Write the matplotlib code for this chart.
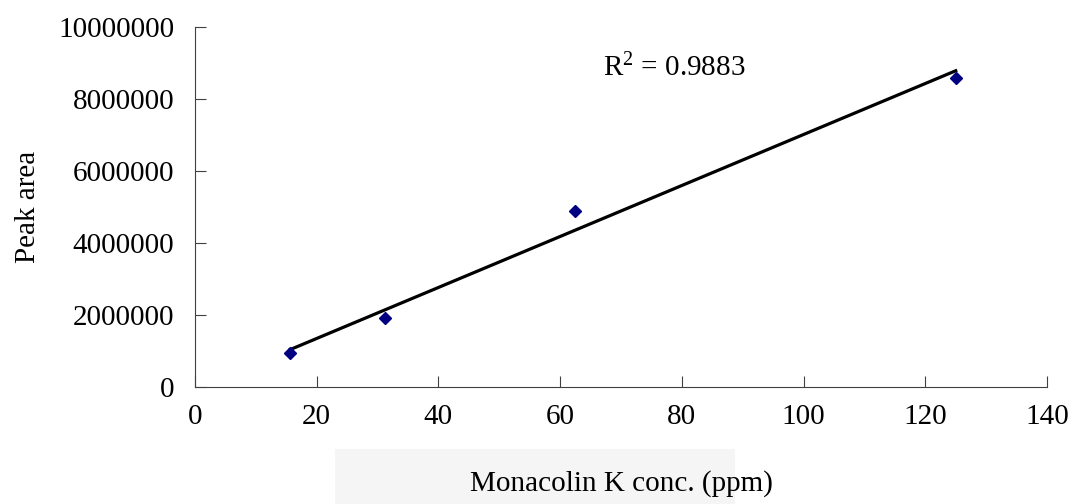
import numpy as np
import matplotlib.pyplot as plt
from matplotlib.patches import Rectangle

plt.rcParams['font.family'] = ['Liberation Serif', 'DejaVu Serif']
plt.rcParams['mathtext.fontset'] = 'custom'
plt.rcParams['mathtext.rm'] = 'Liberation Serif'
plt.rcParams['mathtext.it'] = 'Liberation Serif'

# Monacolin K standards
conc = [15.625, 31.25, 62.5, 125]
peak_area = [936000, 1910000, 4890000, 8590000]
r2_label = r"R$^{2}$ = 0.9883"

x_ticks = [0, 20, 40, 60, 80, 100, 120, 140]
y_ticks = [0, 2000000, 4000000, 6000000, 8000000, 10000000]

fig = plt.figure(figsize=(10.77, 5.04), dpi=100)

# faint watermark block behind the x label
fig.patches.append(Rectangle((335 / 1077, 0), 400 / 1077, 55 / 504,
                             transform=fig.transFigure, facecolor='#f5f5f5',
                             edgecolor='none', zorder=-5))

ax = fig.add_axes([195 / 1077, 1 - 387 / 504, 852 / 1077, 360 / 504])
ax.patch.set_alpha(0)

# linear trend line
slope, icpt = np.polyfit(conc, peak_area, 1)
xl = np.array([min(conc), max(conc)])
ax.plot(xl, slope * xl + icpt, color='black', lw=2.3, zorder=2)
ax.plot(conc, peak_area, 'D', color='#000080', ms=6.5, zorder=3)

ax.text(0.479, 0.886, r2_label, transform=ax.transAxes, fontsize=21,
        va='center', ha='left')

ax.set_xlim(0, 140)
ax.set_ylim(0, 10000000)
ax.set_xticks(x_ticks)
ax.set_yticks(y_ticks)
ax.set_yticklabels([str(v) for v in y_ticks])
ax.tick_params(direction='in', length=8, width=0.8, color='#404040',
               labelsize=21)
ax.tick_params(axis='x', pad=12)
ax.tick_params(axis='y', pad=15)
for s in ['top', 'right']:
    ax.spines[s].set_visible(False)
for s in ['left', 'bottom']:
    ax.spines[s].set_color('#404040')
    ax.spines[s].set_linewidth(0.8)

ax.set_xlabel("Monacolin K conc. (ppm)", fontsize=21, labelpad=29)
ax.set_ylabel("Peak area", fontsize=21, labelpad=12)

fig.savefig("out.png", dpi=100)
